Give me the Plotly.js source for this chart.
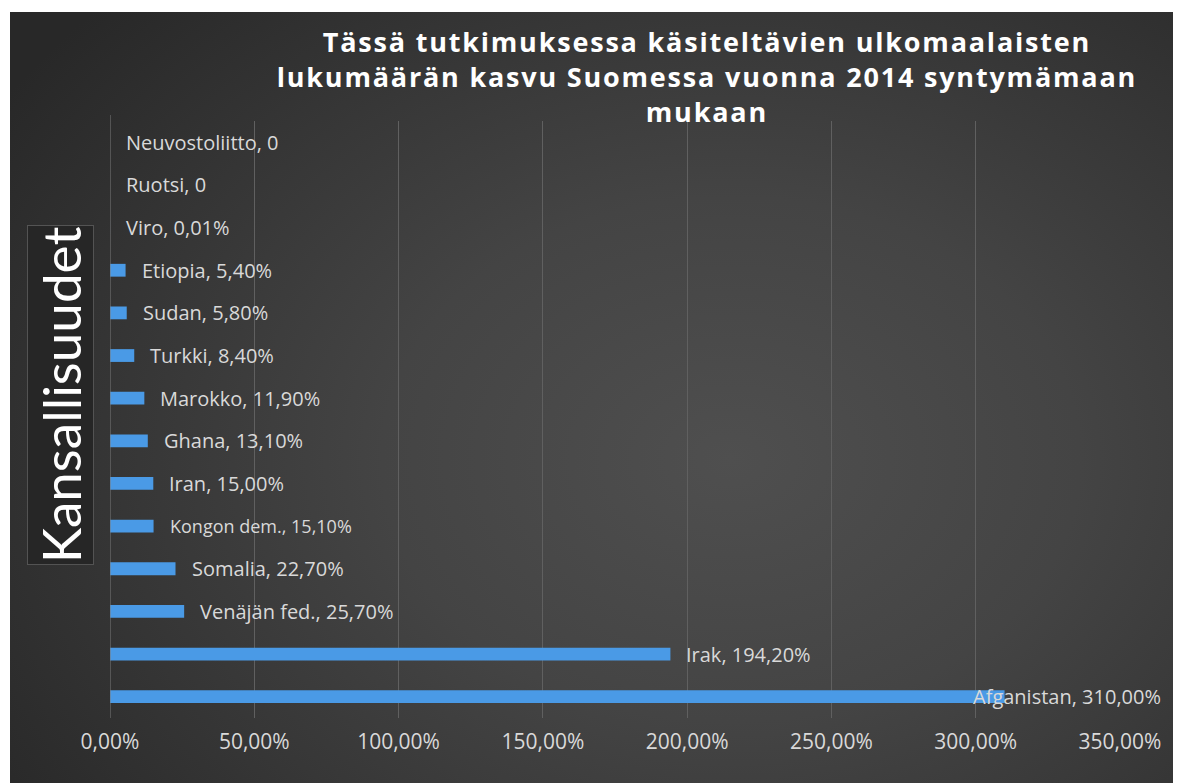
<!DOCTYPE html>
<html>
<head>
<meta charset="utf-8">
<script src="https://cdn.plot.ly/plotly-3.0.1.min.js"></script>
<style>
  html, body { margin: 0; padding: 0; background: #ffffff; }
  #bg {
    position: absolute; left: 10px; top: 12px; width: 1163px; height: 771px;
    background: radial-gradient(ellipse 75% 85% at 62% 58%, #4f4f4f 0%, #444444 40%, #363636 70%, #282828 100%);
  }
  #chart { position: absolute; left: 0; top: 0; width: 1179px; height: 783px; }
  #chart .gtitle { letter-spacing: 1.8px; }
</style>
</head>
<body>
<div id="bg"></div>
<div id="chart"></div>
<script>
// Categories (bottom to top) and growth values in percent
const countries = ["Afganistan", "Irak", "Venäjän fed.", "Somalia", "Kongon dem.", "Iran", "Ghana",
                   "Marokko", "Turkki", "Sudan", "Etiopia", "Viro", "Ruotsi", "Neuvostoliitto"];
const growth = [310.0, 194.2, 25.7, 22.7, 15.1, 15.0, 13.1, 11.9, 8.4, 5.8, 5.4, 0.01, 0, 0];
const valueLabels = ["310,00%", "194,20%", "25,70%", "22,70%", "15,10%", "15,00%", "13,10%",
                     "11,90%", "8,40%", "5,80%", "5,40%", "0,01%", "0", "0"];
const tickValues = [0, 50, 100, 150, 200, 250, 300, 350];
const tickLabels = ["0,00%", "50,00%", "100,00%", "150,00%", "200,00%", "250,00%", "300,00%", "350,00%"];

const labelFont = "'Open Sans', sans-serif";
const textColor = "#d9d9d9";

const trace = {
  type: "bar",
  orientation: "h",
  x: growth,
  y: countries,
  width: 0.3,
  marker: { color: "#4a9ae6", line: { width: 0 } },
  hoverinfo: "x+y"
};

const annotations = countries.map((c, i) => {
  const overflow = growth[i] > 300;
  return {
    x: growth[i], y: c, xref: "x", yref: "y",
    text: c + ", " + valueLabels[i],
    showarrow: false,
    xanchor: "left",
    xshift: overflow ? -34 : 14,
    font: { family: labelFont, size: c === "Kongon dem." ? 18 : 20, color: textColor }
  };
});

annotations.push({
  text: "Kansallisuudet",
  xref: "paper", yref: "paper",
  x: -0.0495, y: 0.541,
  xanchor: "center", yanchor: "middle",
  textangle: -90,
  showarrow: false,
  font: { family: "Lato, 'Open Sans', sans-serif", size: 53, color: "#ffffff" },
  bgcolor: "#262626",
  bordercolor: "#555555",
  borderwidth: 1,
  borderpad: 1
});

const layout = {
  width: 1179, height: 783,
  paper_bgcolor: "rgba(0,0,0,0)",
  plot_bgcolor: "rgba(0,0,0,0)",
  margin: { l: 110, r: 59, t: 121, b: 65 },
  title: {
    text: "Tässä tutkimuksessa käsiteltävien ulkomaalaisten<br>lukumäärän kasvu Suomessa vuonna 2014 syntymämaan<br>mukaan",
    font: { family: "'Open Sans', sans-serif", size: 27, color: "#ffffff", weight: 700 },
    xref: "paper", x: 0.591, xanchor: "center",
    yref: "container", y: 0.934, yanchor: "middle"
  },
  xaxis: {
    range: [0, 350],
    tickvals: tickValues,
    ticktext: tickLabels,
    showgrid: true,
    gridcolor: "#606060",
    gridwidth: 1,
    zeroline: false,
    showline: false,
    ticks: "",
    ticklabelstandoff: 9,
    tickfont: { family: labelFont, size: 21, color: textColor },
    fixedrange: true
  },
  yaxis: {
    showticklabels: false,
    showgrid: false,
    zeroline: false,
    showline: false,
    ticks: "",
    fixedrange: true
  },
  shapes: [{
    type: "line", xref: "x", yref: "paper",
    x0: 0, x1: 0, y0: 0, y1: 1.01,
    line: { color: "#7a7a7a", width: 1 }
  }],
  annotations: annotations,
  showlegend: false
};

Plotly.newPlot("chart", [trace], layout, { displayModeBar: false, staticPlot: true });
</script>
</body>
</html>
